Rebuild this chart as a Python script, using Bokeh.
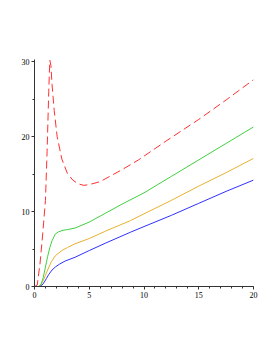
from bokeh.plotting import figure
from bokeh.embed import file_html
from bokeh.resources import INLINE
from bokeh.models import Range1d, FixedTicker

# Data
red_x = [0.0, 0.25, 0.5, 0.75, 1.0, 1.15, 1.3, 1.4, 1.5, 1.6, 1.8, 2.07, 2.5, 3.0, 3.5, 4.0, 4.5, 5.0, 6.0, 6.5, 8.0, 9.5, 12.0, 15.0, 17.5, 20.0]
red_y = [0.0, 0.2, 3.0, 7.0, 11.5, 18.0, 26.0, 30.2, 29.5, 27.0, 23.5, 20.0, 17.0, 15.1, 14.2, 13.7, 13.5, 13.6, 14.0, 14.4, 15.6, 16.9, 19.4, 22.3, 24.9, 27.6]

green_x = [0.0, 0.4, 0.6, 0.8, 1.0, 1.2, 1.4, 1.6, 1.9, 2.2, 2.6, 3.0, 3.7, 5.0, 6.5, 8.0, 10.0, 12.5, 15.0, 17.5, 20.0]
green_y = [0.0, 0.0, 0.3, 1.2, 2.6, 4.0, 5.2, 6.1, 7.0, 7.3, 7.5, 7.6, 7.8, 8.6, 9.8, 11.0, 12.5, 14.7, 16.9, 19.1, 21.3]

orange_x = [0.0, 0.35, 0.6, 0.8, 1.0, 1.2, 1.5, 1.9, 2.5, 3.0, 3.7, 5.0, 6.5, 8.77, 10.0, 12.5, 15.0, 17.5, 20.0]
orange_y = [0.0, 0.0, 0.3, 0.8, 1.5, 2.2, 3.2, 4.1, 4.8, 5.2, 5.7, 6.4, 7.4, 8.8, 9.7, 11.5, 13.4, 15.2, 17.1]

blue_x = [0.0, 0.4, 0.7, 0.9, 1.1, 1.3, 1.6, 1.9, 2.3, 2.8, 3.7, 5.0, 6.5, 8.77, 10.0, 12.5, 15.0, 17.5, 20.0]
blue_y = [0.0, 0.0, 0.2, 0.6, 1.1, 1.6, 2.2, 2.6, 3.0, 3.4, 3.9, 4.8, 5.8, 7.25, 8.0, 9.5, 11.1, 12.7, 14.2]

x_major = [0, 5, 10, 15, 20]
x_minor = list(range(0, 21))
y_major = [0, 10, 20, 30]
y_minor = [5, 15, 25]

p = figure(width=269, height=350, output_backend="svg", toolbar_location=None,
           x_range=Range1d(0, 20), y_range=Range1d(0, 30.3),
           min_border_left=34, min_border_right=16, min_border_top=59, min_border_bottom=64)
p.grid.visible = False
p.outline_line_color = None
p.background_fill_color = "white"
p.border_fill_color = "white"

for ax in (p.xaxis[0], p.yaxis[0]):
    ax.major_label_text_font = "Liberation Serif"
    ax.major_label_text_font_size = "8px"
    ax.major_label_text_color = "black"
    ax.axis_line_color = "#333333"
    ax.major_tick_line_color = "#333333"
    ax.minor_tick_line_color = "#333333"
    ax.major_tick_in = 0
    ax.major_tick_out = 3
    ax.minor_tick_in = 0
    ax.minor_tick_out = 2
    ax.major_label_standoff = 2

p.xaxis[0].ticker = FixedTicker(ticks=x_major, minor_ticks=x_minor)
p.yaxis[0].ticker = FixedTicker(ticks=y_major, minor_ticks=y_minor)

p.line(blue_x, blue_y, line_color="#3030FF", line_width=1)
p.line(orange_x, orange_y, line_color="#E8B030", line_width=1)
p.line(green_x, green_y, line_color="#40D040", line_width=1)
p.line(red_x, red_y, line_color="#FF3030", line_width=1, line_dash="8 4")

open("out.html", "w").write(file_html(p, INLINE))
